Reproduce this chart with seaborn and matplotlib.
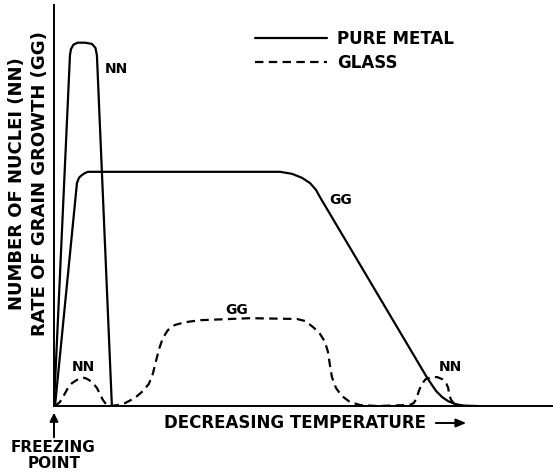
import numpy as np
import pandas as pd
import matplotlib
matplotlib.use('Agg')
import matplotlib.pyplot as plt
import seaborn as sns
from matplotlib.lines import Line2D

# curves, arbitrary units (temperature 0-100, rate 0-100)
metal_nn_x = [0, 3.2, 3.4, 3.9, 4.7, 6.2, 7.6, 8.3, 8.6, 11.6]
metal_nn_y = [0, 87.5, 89.0, 90.1, 90.6, 90.6, 90.3, 89.3, 87.5, 0]

metal_gg_x = [0.2, 4.6, 5.0, 5.6, 6.2, 6.8, 45.3, 47.7, 49.7, 51.3, 52.5, 53.3,
              74.7, 75.6, 76.6, 77.8, 79.0, 80.4, 82.0, 84.8]
metal_gg_y = [0, 55.6, 56.9, 57.6, 58.1, 58.4, 58.4, 57.9, 56.9, 55.6, 53.9, 52.1,
              7.2, 5.5, 3.7, 2.2, 1.2, 0.5, 0.1, 0]

glass_x = [0.2, 1.2, 2.0, 2.8, 3.6, 4.6, 5.4, 6.2, 7.0, 7.8, 8.6, 9.2, 9.8, 10.4, 11.2,
           12.6, 14.2, 16.2, 17.8, 19.0, 19.8, 20.4, 21.0, 21.8, 22.8, 24.2, 26.3, 29.3,
           39.3, 48.7, 50.3, 51.9, 53.3, 54.3, 54.9, 55.3, 55.7, 56.5, 57.7, 59.3, 61.3,
           64.7, 71.3, 72.1, 72.7, 73.1, 73.7, 74.5, 75.6, 76.8, 77.8, 78.6, 79.0, 79.2,
           79.6, 80.2, 81.0, 82.4]
glass_y = [0, 1.0, 2.7, 4.5, 5.7, 6.5, 7.0, 7.0, 6.5, 5.7, 4.5, 3.0, 1.5, 0.5, 0,
           0.2, 0.7, 2.0, 3.7, 5.5, 8.0, 11.0, 14.0, 16.9, 18.9, 20.2, 20.9, 21.4,
           21.9, 21.7, 21.2, 19.7, 18.0, 16.0, 13.5, 10.2, 7.2, 4.5, 2.5, 1.0, 0.25,
           0, 0.25, 0.75, 2.0, 3.7, 5.5, 6.7, 7.2, 7.2, 6.7, 5.7, 4.5, 2.7,
           1.5, 0.5, 0.1, 0]

materials = ['PURE METAL', 'GLASS']

df = pd.concat([
    pd.DataFrame({'temp': metal_nn_x, 'rate': metal_nn_y, 'material': 'PURE METAL', 'curve': 'NN'}),
    pd.DataFrame({'temp': metal_gg_x, 'rate': metal_gg_y, 'material': 'PURE METAL', 'curve': 'GG'}),
    pd.DataFrame({'temp': glass_x, 'rate': glass_y, 'material': 'GLASS', 'curve': 'glass'}),
], ignore_index=True)

sns.set_style('white')
plt.rcParams['font.family'] = ['DejaVu Sans']
plt.rcParams['font.weight'] = 'bold'
plt.rcParams['text.color'] = 'black'

W, H = 553, 472
fig = plt.figure(figsize=(W / 100, H / 100), dpi=100)
ax = fig.add_axes([54 / W, 66 / H, 499 / W, 401 / H])

dash = (3.8, 2.4)
sns.lineplot(data=df, x='temp', y='rate', hue='material', style='material',
             units='curve', estimator=None, sort=False, hue_order=materials,
             style_order=materials, palette=['black', 'black'],
             dashes={'PURE METAL': '', 'GLASS': dash}, linewidth=1.6,
             legend=False, ax=ax)

ax.set_xlim(0, 100)
ax.set_ylim(0, 100)
ax.set_xticks([])
ax.set_yticks([])
ax.set_xlabel('')
ax.set_ylabel('')
for s in ['top', 'right']:
    ax.spines[s].set_visible(False)
for s in ['left', 'bottom']:
    ax.spines[s].set_color('black')
    ax.spines[s].set_linewidth(1.4)

handles = [Line2D([], [], color='black', lw=1.6),
           Line2D([], [], color='black', lw=1.6, dashes=dash)]
ax.legend(handles, materials, loc='upper left', bbox_to_anchor=(255 / W, 1 - 30 / H),
          bbox_transform=fig.transFigure, frameon=False, fontsize=12,
          handlelength=4.3, handletextpad=0.6, labelspacing=0.35,
          borderpad=0, borderaxespad=0)

def ftext(px, py, s, **kw):
    fig.text(px / W, 1 - py / H, s, ha='center', va='center', fontweight='bold',
             color='black', **kw)

# curve labels
ftext(116, 69, 'NN', fontsize=10)
ftext(341, 200, 'GG', fontsize=10)
ftext(237, 310, 'GG', fontsize=10)
ftext(83, 367, 'NN', fontsize=10)
ftext(450, 367, 'NN', fontsize=10)

# axis titles
ftext(17, 184, 'NUMBER OF NUCLEI (NN)', fontsize=13, rotation=90)
ftext(40, 184, 'RATE OF GRAIN GROWTH (GG)', fontsize=13, rotation=90)
ftext(295, 423, 'DECREASING TEMPERATURE', fontsize=12)
ftext(53, 448, 'FREEZING', fontsize=11)
ftext(54, 464, 'POINT', fontsize=11)

# arrows
fig.add_artist(matplotlib.patches.FancyArrowPatch(
    (54 / W, 1 - 440 / H), (54 / W, 1 - 410 / H), transform=fig.transFigure,
    arrowstyle='-|>,head_length=5,head_width=2.5', color='black', lw=1.4))
fig.add_artist(matplotlib.patches.FancyArrowPatch(
    (433 / W, 1 - 423 / H), (469 / W, 1 - 423 / H), transform=fig.transFigure,
    arrowstyle='-|>,head_length=6,head_width=2.5', color='black', lw=1.4))

fig.savefig('out.png', dpi=100)
